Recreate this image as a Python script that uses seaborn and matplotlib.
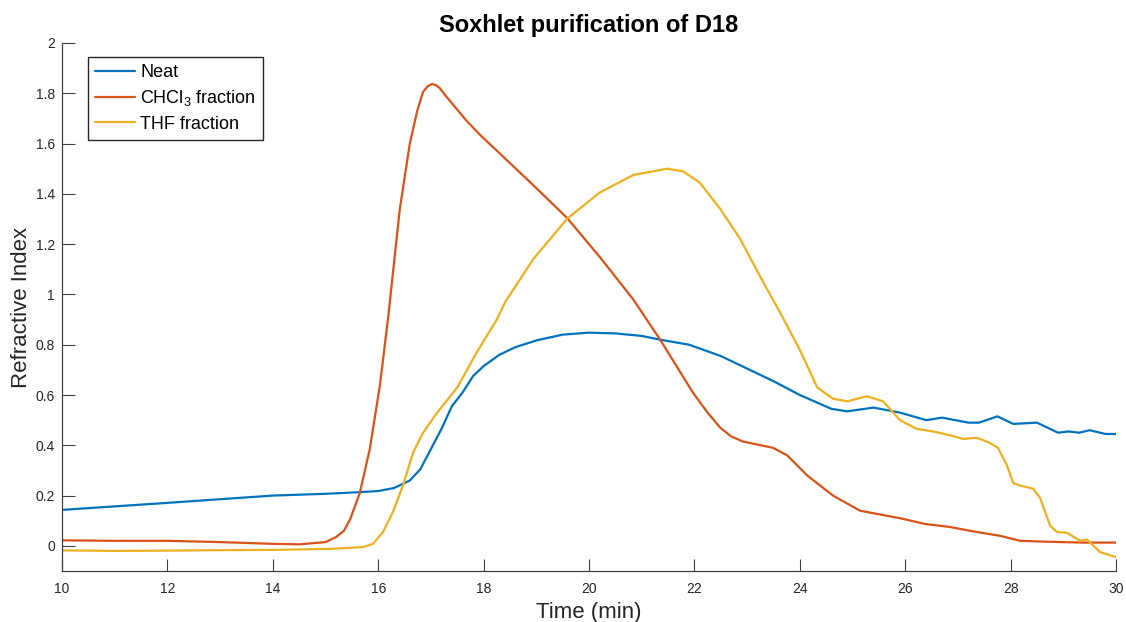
import pandas as pd
import seaborn as sns
import matplotlib.pyplot as plt

# values
neat_t = [10, 12, 14, 15, 15.5, 16, 16.3, 16.6, 16.8, 17.0, 17.2, 17.4, 17.6, 17.8, 18.0,
          18.3, 18.6, 19.0, 19.5, 20.0, 20.5, 21.0, 21.35, 21.9, 22.5, 23.1, 23.5, 24.0,
          24.6, 24.9, 25.4, 25.9, 26.4, 26.7, 27.2, 27.4, 27.75, 28.05, 28.5, 28.9, 29.1,
          29.3, 29.5, 29.8, 30]
neat_v = [0.143, 0.171, 0.20, 0.207, 0.212, 0.218, 0.23, 0.26, 0.305, 0.385, 0.465, 0.556,
          0.61, 0.675, 0.715, 0.76, 0.79, 0.817, 0.84, 0.848, 0.845, 0.835, 0.82, 0.80,
          0.755, 0.695, 0.655, 0.6, 0.545, 0.535, 0.55, 0.53, 0.50, 0.51, 0.49, 0.49, 0.515,
          0.485, 0.49, 0.45, 0.455, 0.45, 0.46, 0.445, 0.445]

chcl_t = [10, 11, 12, 13, 14, 14.5, 15.0, 15.2, 15.35, 15.47, 15.65, 15.84, 16.03, 16.19,
          16.41, 16.6, 16.74, 16.85, 16.94, 17.02, 17.1, 17.17, 17.3, 17.5, 17.68, 17.93,
          18.31, 18.94, 19.58, 20.2, 20.84, 21.35, 21.97, 22.25, 22.49, 22.7, 22.92, 23.49,
          23.76, 24.14, 24.63, 25.14, 25.9, 26.38, 26.85, 27.36, 27.8, 28.18, 28.75, 29.37, 30]
chcl_v = [0.022, 0.02, 0.02, 0.015, 0.008, 0.006, 0.015, 0.035, 0.06, 0.107, 0.21, 0.385,
          0.635, 0.91, 1.34, 1.60, 1.73, 1.805, 1.828, 1.837, 1.832, 1.82, 1.785, 1.735, 1.69,
          1.635, 1.56, 1.435, 1.305, 1.15, 0.98, 0.82, 0.61, 0.53, 0.47, 0.435, 0.415, 0.39,
          0.36, 0.28, 0.2, 0.14, 0.11, 0.087, 0.075, 0.055, 0.04, 0.02, 0.016, 0.013, 0.013]

thf_t = [10, 11, 12, 13, 14, 15.09, 15.71, 15.9, 16.09, 16.28, 16.47, 16.66, 16.85, 17.12,
         17.5, 17.87, 18.25, 18.41, 18.94, 19.58, 20.2, 20.84, 21.48, 21.78, 22.1, 22.49,
         22.87, 23.25, 23.62, 24.0, 24.33, 24.63, 24.9, 25.27, 25.58, 25.9, 26.22, 26.53,
         26.85, 27.1, 27.36, 27.6, 27.76, 27.93, 28.05, 28.18, 28.43, 28.56, 28.75, 28.88,
         29.07, 29.32, 29.45, 29.7, 30]
thf_v = [-0.018, -0.02, -0.019, -0.017, -0.016, -0.012, -0.005, 0.008, 0.055, 0.135, 0.24,
         0.37, 0.45, 0.53, 0.63, 0.77, 0.90, 0.97, 1.14, 1.30, 1.405, 1.475, 1.50, 1.49,
         1.445, 1.34, 1.22, 1.07, 0.93, 0.78, 0.63, 0.585, 0.575, 0.595, 0.575, 0.50, 0.465,
         0.455, 0.44, 0.425, 0.43, 0.41, 0.39, 0.32, 0.25, 0.24, 0.227, 0.19, 0.08, 0.055,
         0.052, 0.02, 0.025, -0.025, -0.045]

series_names = ['Neat', r'CHCl$_3$ fraction', 'THF fraction']
colors = ['#0072BD', '#D95319', '#EDB120']
x_ticks = list(range(10, 31, 2))
y_ticks = [0, 0.2, 0.4, 0.6, 0.8, 1, 1.2, 1.4, 1.6, 1.8, 2]

df = pd.concat([
    pd.DataFrame({'Time': neat_t, 'RI': neat_v, 'Sample': series_names[0]}),
    pd.DataFrame({'Time': chcl_t, 'RI': chcl_v, 'Sample': series_names[1]}),
    pd.DataFrame({'Time': thf_t, 'RI': thf_v, 'Sample': series_names[2]}),
])

sns.set_style('white')
plt.rcParams['font.family'] = ['Liberation Sans', 'DejaVu Sans']
plt.rcParams['mathtext.default'] = 'regular'

fig = plt.figure(figsize=(11.26, 6.22), dpi=100)
ax = fig.add_axes([62 / 1126, 1 - 571 / 622, 1054 / 1126, 528 / 622])

sns.lineplot(data=df, x='Time', y='RI', hue='Sample', palette=colors, linewidth=1.6,
             sort=False, ax=ax)

ax.set_xlim(10, 30)
ax.set_ylim(-0.1, 2)
ax.set_xticks(x_ticks)
ax.set_xticklabels([str(t) for t in x_ticks])
ax.set_yticks(y_ticks)
ax.set_yticklabels([f'{v:g}' for v in y_ticks])
ax.tick_params(bottom=True, left=True, direction='in', length=9, width=0.8,
               color='#404040', labelcolor='#262626', labelsize=10)
ax.tick_params(axis='x', pad=8)
ax.tick_params(axis='y', pad=5)
for side in ['top', 'right']:
    ax.spines[side].set_visible(False)
for side in ['left', 'bottom']:
    ax.spines[side].set_color('#404040')
    ax.spines[side].set_linewidth(0.9)

ax.set_xlabel('Time (min)', fontsize=16, color='#262626', labelpad=4)
ax.set_ylabel('Refractive Index', fontsize=16, color='#262626', labelpad=3)
ax.set_title('Soxhlet purification of D18', fontsize=17, fontweight='bold', color='black',
             pad=8)

leg = ax.legend(loc='upper left', bbox_to_anchor=(26 / 1054, 1 - 14 / 528), borderaxespad=0,
                fontsize=13, frameon=True, fancybox=False, edgecolor='#262626',
                handlelength=2.2, handletextpad=0.3, labelspacing=0.4, borderpad=0.4)
leg.get_frame().set_linewidth(1.0)
leg.get_frame().set_alpha(1)
for txt in leg.get_texts():
    txt.set_color('black')

fig.savefig('out.png', dpi=100)
